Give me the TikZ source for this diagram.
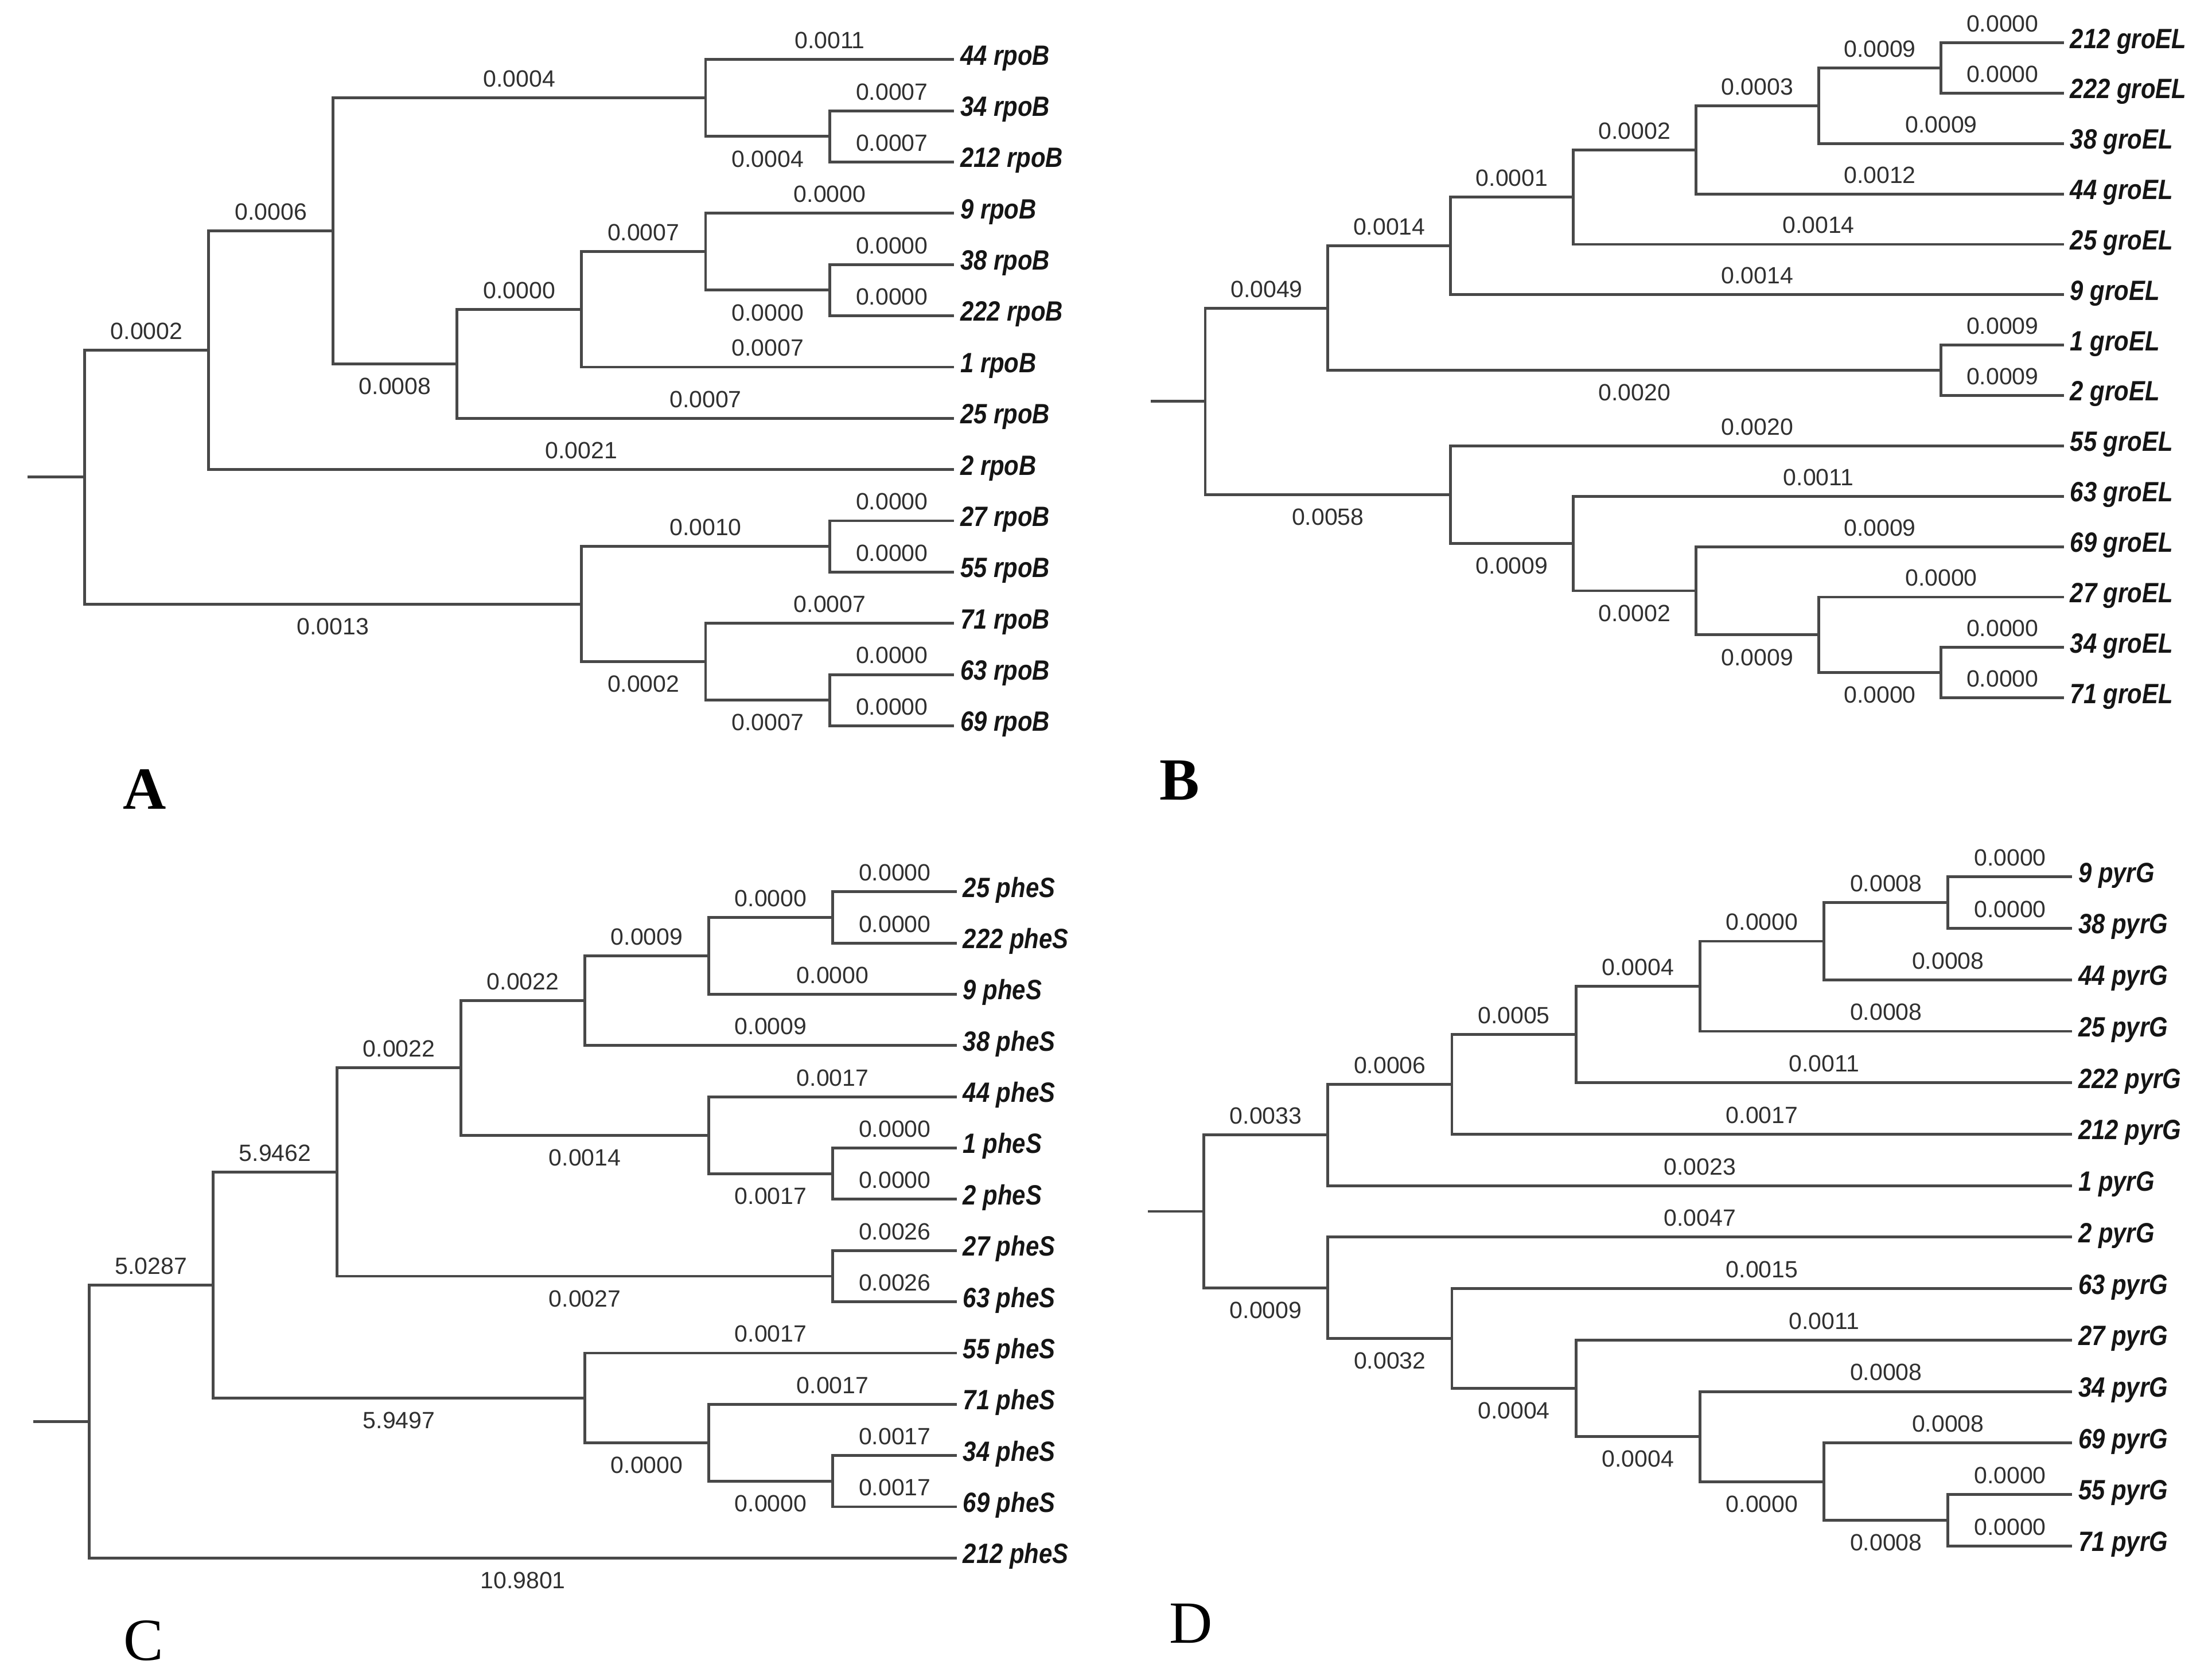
\documentclass[tikz,border=0pt]{standalone}
\usepackage{fontspec}
\setmainfont{Liberation Sans}
\newfontfamily\numfont{Liberation Sans}
\newfontfamily\leaffont[FakeStretch=0.86]{Liberation Sans}
\newfontfamily\letfont{Liberation Serif}
\definecolor{treecol}{HTML}{484848}
\definecolor{numcol}{HTML}{303030}
\definecolor{leafcol}{HTML}{151515}
\tikzset{
  branch/.style={draw=treecol, line width=1.4pt},
  labup/.style={anchor=base, inner sep=0pt, yshift=5.5pt, font=\numfont\fontsize{11.8}{12}\selectfont, text=numcol},
  labdn/.style={anchor=base, inner sep=0pt, yshift=-15.3pt, font=\numfont\fontsize{11.8}{12}\selectfont, text=numcol},
  leaf/.style={anchor=base west, inner sep=0pt, xshift=3pt, yshift=-2.7pt, font=\leaffont\bfseries\itshape\fontsize{14}{16}\selectfont, text=leafcol},
  panel/.style={anchor=base, inner sep=0pt, text=black}
}
\newcommand\mkpt[3]{\coordinate (#1) at ({\pnX+(#2)*\pnS},{\pnY+(#3)*\pnD});}
\newcommand\mkleaf[3]{\coordinate (#1) at ({\pnX+7*\pnS},{\pnY+(#2)*\pnD}); \node[leaf] (#1t) at (#1) {#3};}
\newcommand\edgeU[3]{\draw[branch] (#1) |- (#2) node[pos=0.75,labup]{#3};}
\newcommand\edgeD[3]{\draw[branch] (#1) |- (#2) node[pos=0.75,labdn]{#3};}
\newcommand\edgeN[2]{\draw[branch] (#1) |- (#2);}
\begin{document}
\begin{tikzpicture}[x=0.25mm,y=-0.25mm]
\useasboundingbox (0,0) rectangle (1560,1184.6);
\fill[white] (0,0) rectangle (1560,1184.6);

% ================= Panel A =================
\def\pnX{59.6}\def\pnS{87.6}\def\pnY{42}\def\pnD{36.15}
\mkleaf{Al0}{0}{44 rpoB}
\mkleaf{Al1}{1}{34 rpoB}
\mkleaf{Al2}{2}{212 rpoB}
\mkleaf{Al3}{3}{9 rpoB}
\mkleaf{Al4}{4}{38 rpoB}
\mkleaf{Al5}{5}{222 rpoB}
\mkleaf{Al6}{6}{1 rpoB}
\mkleaf{Al7}{7}{25 rpoB}
\mkleaf{Al8}{8}{2 rpoB}
\mkleaf{Al9}{9}{27 rpoB}
\mkleaf{Al10}{10}{55 rpoB}
\mkleaf{Al11}{11}{71 rpoB}
\mkleaf{Al12}{12}{63 rpoB}
\mkleaf{Al13}{13}{69 rpoB}
\mkpt{A0}{0}{8.1484375}
\mkpt{An1}{1}{5.671875}
\mkpt{An2}{2}{3.34375}
\mkpt{An3}{5}{0.75}
\mkpt{An4}{6}{1.5}
\mkpt{An5}{3}{5.9375}
\mkpt{An6}{4}{4.875}
\mkpt{An7}{5}{3.75}
\mkpt{An8}{6}{4.5}
\mkpt{Am1}{4}{10.625}
\mkpt{Am2}{6}{9.5}
\mkpt{Am3}{5}{11.75}
\mkpt{Am4}{6}{12.5}
\coordinate (As) at (19.6,{\pnY+8.1484375*\pnD});
\draw[branch] (As) -- (A0);
\edgeU{A0}{An1}{0.0002}
\edgeD{A0}{Am1}{0.0013}
\edgeU{An1}{An2}{0.0006}
\edgeU{An1}{Al8}{0.0021}
\edgeU{An2}{An3}{0.0004}
\edgeD{An2}{An5}{0.0008}
\edgeU{An3}{Al0}{0.0011}
\edgeD{An3}{An4}{0.0004}
\edgeU{An4}{Al1}{0.0007}
\edgeU{An4}{Al2}{0.0007}
\edgeU{An5}{An6}{0.0000}
\edgeU{An5}{Al7}{0.0007}
\edgeU{An6}{An7}{0.0007}
\edgeU{An6}{Al6}{0.0007}
\edgeU{An7}{Al3}{0.0000}
\edgeD{An7}{An8}{0.0000}
\edgeU{An8}{Al4}{0.0000}
\edgeU{An8}{Al5}{0.0000}
\edgeU{Am1}{Am2}{0.0010}
\edgeD{Am1}{Am3}{0.0002}
\edgeU{Am2}{Al9}{0.0000}
\edgeU{Am2}{Al10}{0.0000}
\edgeU{Am3}{Al11}{0.0007}
\edgeD{Am3}{Am4}{0.0007}
\edgeU{Am4}{Al12}{0.0000}
\edgeU{Am4}{Al13}{0.0000}
\node[panel, font=\letfont\bfseries\fontsize{30}{32}\selectfont] (LA) at (102,570.5) {A};

% ================= Panel B =================
\def\pnX{850}\def\pnS{86.5}\def\pnY{30.2}\def\pnD{35.54}
\mkleaf{Bl0}{0}{212 groEL}
\mkleaf{Bl1}{1}{222 groEL}
\mkleaf{Bl2}{2}{38 groEL}
\mkleaf{Bl3}{3}{44 groEL}
\mkleaf{Bl4}{4}{25 groEL}
\mkleaf{Bl5}{5}{9 groEL}
\mkleaf{Bl6}{6}{1 groEL}
\mkleaf{Bl7}{7}{2 groEL}
\mkleaf{Bl8}{8}{55 groEL}
\mkleaf{Bl9}{9}{63 groEL}
\mkleaf{Bl10}{10}{69 groEL}
\mkleaf{Bl11}{11}{27 groEL}
\mkleaf{Bl12}{12}{34 groEL}
\mkleaf{Bl13}{13}{71 groEL}
\mkpt{B0}{0}{7.1171875}
\mkpt{BU}{1}{5.265625}
\mkpt{BU1}{2}{4.03125}
\mkpt{BU2}{3}{3.0625}
\mkpt{BU3}{4}{2.125}
\mkpt{BU4}{5}{1.25}
\mkpt{BU5}{6}{0.5}
\mkpt{BP}{6}{6.5}
\mkpt{BL}{2}{8.96875}
\mkpt{BL1}{3}{9.9375}
\mkpt{BL2}{4}{10.875}
\mkpt{BL3}{5}{11.75}
\mkpt{BL4}{6}{12.5}
\coordinate (Bs) at (811.6,{\pnY+7.1171875*\pnD});
\draw[branch] (Bs) -- (B0);
\edgeU{B0}{BU}{0.0049}
\edgeD{B0}{BL}{0.0058}
\edgeU{BU}{BU1}{0.0014}
\edgeD{BU}{BP}{0.0020}
\edgeU{BU1}{BU2}{0.0001}
\edgeU{BU1}{Bl5}{0.0014}
\edgeU{BU2}{BU3}{0.0002}
\edgeU{BU2}{Bl4}{0.0014}
\edgeU{BU3}{BU4}{0.0003}
\edgeU{BU3}{Bl3}{0.0012}
\edgeU{BU4}{BU5}{0.0009}
\edgeU{BU4}{Bl2}{0.0009}
\edgeU{BU5}{Bl0}{0.0000}
\edgeU{BU5}{Bl1}{0.0000}
\edgeU{BP}{Bl6}{0.0009}
\edgeU{BP}{Bl7}{0.0009}
\edgeU{BL}{Bl8}{0.0020}
\edgeD{BL}{BL1}{0.0009}
\edgeU{BL1}{Bl9}{0.0011}
\edgeD{BL1}{BL2}{0.0002}
\edgeU{BL2}{Bl10}{0.0009}
\edgeD{BL2}{BL3}{0.0009}
\edgeU{BL3}{Bl11}{0.0000}
\edgeD{BL3}{BL4}{0.0000}
\edgeU{BL4}{Bl12}{0.0000}
\edgeU{BL4}{Bl13}{0.0000}
\node[panel, font=\letfont\bfseries\fontsize{30}{32}\selectfont] (LB) at (832,564) {B};

% ================= Panel C =================
\def\pnX{62.9}\def\pnS{87.4}\def\pnY{629}\def\pnD{36.15}
\mkleaf{Cl0}{0}{25 pheS}
\mkleaf{Cl1}{1}{222 pheS}
\mkleaf{Cl2}{2}{9 pheS}
\mkleaf{Cl3}{3}{38 pheS}
\mkleaf{Cl4}{4}{44 pheS}
\mkleaf{Cl5}{5}{1 pheS}
\mkleaf{Cl6}{6}{2 pheS}
\mkleaf{Cl7}{7}{27 pheS}
\mkleaf{Cl8}{8}{63 pheS}
\mkleaf{Cl9}{9}{55 pheS}
\mkleaf{Cl10}{10}{71 pheS}
\mkleaf{Cl11}{11}{34 pheS}
\mkleaf{Cl12}{12}{69 pheS}
\mkleaf{Cl13}{13}{212 pheS}
\mkpt{C0}{0}{10.3359375}
\mkpt{Cn1}{1}{7.671875}
\mkpt{Cn2}{2}{5.46875}
\mkpt{Cn4}{3}{3.4375}
\mkpt{Cn5}{4}{2.125}
\mkpt{Cn7}{5}{1.25}
\mkpt{Cn8}{6}{0.5}
\mkpt{Cn6}{5}{4.75}
\mkpt{Cq1}{6}{5.5}
\mkpt{Cq2}{6}{7.5}
\mkpt{Cn3}{4}{9.875}
\mkpt{Cn9}{5}{10.75}
\mkpt{Cn10}{6}{11.5}
\coordinate (Cs) at (23.5,{\pnY+10.3359375*\pnD});
\draw[branch] (Cs) -- (C0);
\edgeU{C0}{Cn1}{5.0287}
\edgeD{C0}{Cl13}{10.9801}
\edgeU{Cn1}{Cn2}{5.9462}
\edgeD{Cn1}{Cn3}{5.9497}
\edgeU{Cn2}{Cn4}{0.0022}
\edgeD{Cn2}{Cq2}{0.0027}
\edgeU{Cn4}{Cn5}{0.0022}
\edgeD{Cn4}{Cn6}{0.0014}
\edgeU{Cn5}{Cn7}{0.0009}
\edgeU{Cn5}{Cl3}{0.0009}
\edgeU{Cn7}{Cn8}{0.0000}
\edgeU{Cn7}{Cl2}{0.0000}
\edgeU{Cn8}{Cl0}{0.0000}
\edgeU{Cn8}{Cl1}{0.0000}
\edgeU{Cn6}{Cl4}{0.0017}
\edgeD{Cn6}{Cq1}{0.0017}
\edgeU{Cq1}{Cl5}{0.0000}
\edgeU{Cq1}{Cl6}{0.0000}
\edgeU{Cq2}{Cl7}{0.0026}
\edgeU{Cq2}{Cl8}{0.0026}
\edgeU{Cn3}{Cl9}{0.0017}
\edgeD{Cn3}{Cn9}{0.0000}
\edgeU{Cn9}{Cl10}{0.0017}
\edgeD{Cn9}{Cn10}{0.0000}
\edgeU{Cn10}{Cl11}{0.0017}
\edgeU{Cn10}{Cl12}{0.0017}
\node[panel, font=\letfont\fontsize{30}{32}\selectfont] (LC) at (101.3,1171) {C};

% ================= Panel D =================
\def\pnX{849}\def\pnS{87.47}\def\pnY{618.5}\def\pnD{36.3}
\mkleaf{Dl0}{0}{9 pyrG}
\mkleaf{Dl1}{1}{38 pyrG}
\mkleaf{Dl2}{2}{44 pyrG}
\mkleaf{Dl3}{3}{25 pyrG}
\mkleaf{Dl4}{4}{222 pyrG}
\mkleaf{Dl5}{5}{212 pyrG}
\mkleaf{Dl6}{6}{1 pyrG}
\mkleaf{Dl7}{7}{2 pyrG}
\mkleaf{Dl8}{8}{63 pyrG}
\mkleaf{Dl9}{9}{27 pyrG}
\mkleaf{Dl10}{10}{34 pyrG}
\mkleaf{Dl11}{11}{69 pyrG}
\mkleaf{Dl12}{12}{55 pyrG}
\mkleaf{Dl13}{13}{71 pyrG}
\mkpt{D0}{0}{6.5}
\mkpt{Dn1}{1}{5.015625}
\mkpt{Dn3}{2}{4.03125}
\mkpt{Dn4}{3}{3.0625}
\mkpt{Dn5}{4}{2.125}
\mkpt{Dn6}{5}{1.25}
\mkpt{Dn7}{6}{0.5}
\mkpt{Dn2}{1}{7.984375}
\mkpt{Dn8}{2}{8.96875}
\mkpt{Dn9}{3}{9.9375}
\mkpt{Dn10}{4}{10.875}
\mkpt{Dn11}{5}{11.75}
\mkpt{Dn12}{6}{12.5}
\coordinate (Ds) at (809.6,{\pnY+6.5*\pnD});
\draw[branch] (Ds) -- (D0);
\edgeU{D0}{Dn1}{0.0033}
\edgeD{D0}{Dn2}{0.0009}
\edgeU{Dn1}{Dn3}{0.0006}
\edgeU{Dn1}{Dl6}{0.0023}
\edgeU{Dn3}{Dn4}{0.0005}
\edgeU{Dn3}{Dl5}{0.0017}
\edgeU{Dn4}{Dn5}{0.0004}
\edgeU{Dn4}{Dl4}{0.0011}
\edgeU{Dn5}{Dn6}{0.0000}
\edgeU{Dn5}{Dl3}{0.0008}
\edgeU{Dn6}{Dn7}{0.0008}
\edgeU{Dn6}{Dl2}{0.0008}
\edgeU{Dn7}{Dl0}{0.0000}
\edgeU{Dn7}{Dl1}{0.0000}
\edgeU{Dn2}{Dl7}{0.0047}
\edgeD{Dn2}{Dn8}{0.0032}
\edgeU{Dn8}{Dl8}{0.0015}
\edgeD{Dn8}{Dn9}{0.0004}
\edgeU{Dn9}{Dl9}{0.0011}
\edgeD{Dn9}{Dn10}{0.0004}
\edgeU{Dn10}{Dl10}{0.0008}
\edgeD{Dn10}{Dn11}{0.0000}
\edgeU{Dn11}{Dl11}{0.0008}
\edgeD{Dn11}{Dn12}{0.0008}
\edgeU{Dn12}{Dl12}{0.0000}
\edgeU{Dn12}{Dl13}{0.0000}
\node[panel, font=\letfont\fontsize{30}{32}\selectfont] (LD) at (840,1159) {D};
\end{tikzpicture}
\end{document}
